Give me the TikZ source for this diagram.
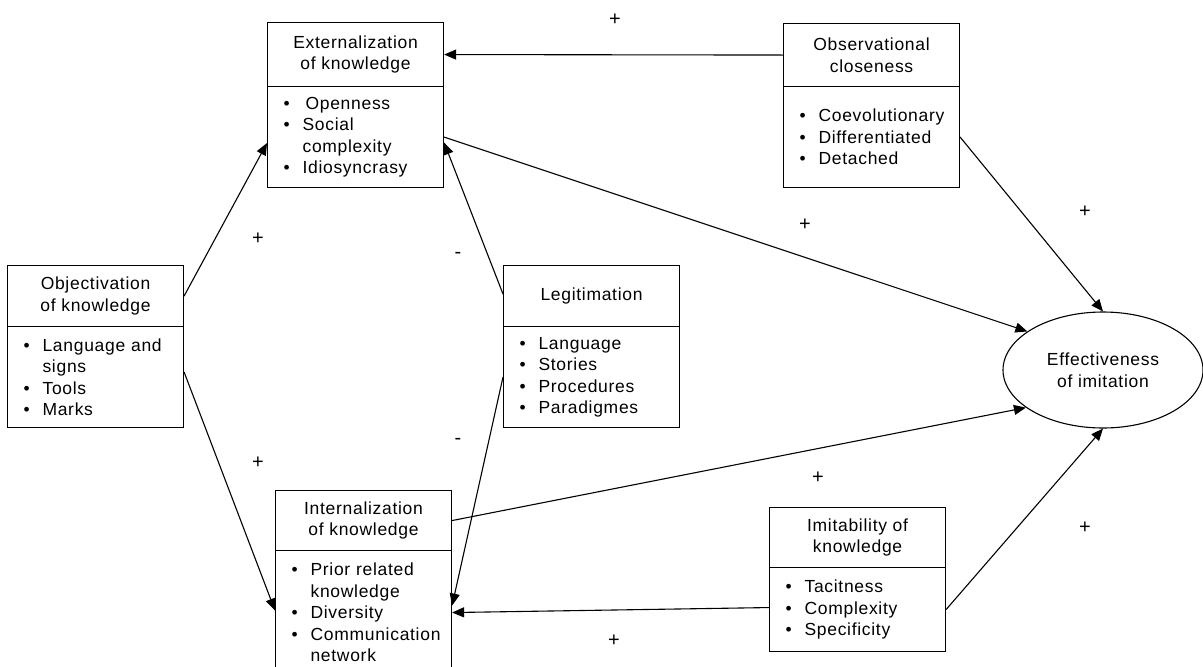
\documentclass[tikz,border=0pt]{standalone}
\usepackage{fontspec}
\setmainfont[LetterSpace=4]{Liberation Sans}
\usetikzlibrary{arrows.meta,shapes.geometric,calc}
% bullet item and continuation line inside a list box
\newcommand\blt{\makebox[31pt][l]{\hspace{12pt}\textbullet}}
\newcommand\cnt{\hspace*{31pt}}

\begin{document}
\begin{tikzpicture}[x=1pt,y=-1pt,
  every node/.style={font=\fontsize{17.5}{21.5}\selectfont},
  hdr/.style={draw, line width=1.1pt, minimum width=176pt, align=center,
              anchor=north west, inner sep=0pt},
  bdy/.style={draw, line width=1.1pt, minimum width=176pt, text width=168pt,
              align=left, anchor=north west, inner xsep=4pt, inner ysep=0pt},
  oval/.style={draw, line width=1.1pt, ellipse, minimum width=200pt,
               minimum height=116pt, inner sep=0pt, align=center},
  arr/.style={line width=1.1pt, -{Triangle[length=12pt,width=10pt]}},
  sign/.style={font=\fontsize{20}{22}\selectfont, inner sep=0pt}]
\useasboundingbox (0,0) rectangle (1203,667);
\clip (0,0) rectangle (1203,667);

% Externalization
\node[hdr, minimum height=64pt] (exth) at (267,22) {Externalization\\of knowledge};
\node[bdy, minimum height=101pt] (extb) at (267,86)
  {\blt\hspace{3pt}Openness\\\blt Social\\\cnt complexity\\\blt Idiosyncrasy};

% Observational closeness
\node[hdr, minimum height=63pt] (obsh) at (783,23) {Observational\\closeness};
\node[bdy, minimum height=101pt] (obsb) at (783,86)
  {\blt Coevolutionary\\\blt Differentiated\\\blt Detached};

% Objectivation
\node[hdr, minimum height=61pt] (objh) at (7,265) {Objectivation\\of knowledge};
\node[bdy, minimum height=101pt] (objb) at (7,326)
  {\blt Language and\\\cnt signs\\\blt Tools\\\blt Marks};

% Legitimation
\node[hdr, minimum height=61pt] (legh) at (503,265) {Legitimation};
\node[bdy, minimum height=101pt] (legb) at (503,326)
  {\blt Language\\\blt Stories\\\blt Procedures\\\blt Paradigmes};

% Internalization
\node[hdr, minimum height=60pt] (inth) at (275,490) {Internalization\\of knowledge};
\node[bdy, minimum height=124pt] (intb) at (275,550)
  {\blt Prior related\\\cnt knowledge\\\blt Diversity\\\blt Communication\\\cnt network};

% Imitability
\node[hdr, minimum height=60pt] (imh) at (769,507) {Imitability of\\knowledge};
\node[bdy, minimum height=84pt] (imb) at (769,567)
  {\blt Tacitness\\\blt Complexity\\\blt Specificity};

% Outcome
\node[oval] (eff) at (1103,370) {Effectiveness\\of imitation};

% Connectors
\draw[arr] (objh.east) -- ([yshift=-6pt]extb.west);
\draw[arr] ([yshift=5pt]objb.east) -- ([yshift=2pt]intb.west);
\draw[arr] (obsh.west) -- (exth.east);
\draw[arr] (extb.east) -- (eff.153);
\draw[arr] ([yshift=2pt]legh.west) -- ([yshift=-5.5pt]extb.east);
\draw[arr] (legb.west) -- ([yshift=7pt]intb.east);
\draw[arr] (inth.east) -- (eff.206);
\draw[arr] ([yshift=2pt]imb.west) -- (intb.east);
\draw[arr] (imb.east) -- (eff.south);
\draw[arr] (obsb.east) -- (eff.north);

% Signs
\node[sign] (s1) at (615,20) {+};
\node[sign] (s2) at (258,239) {+};
\node[sign] (s3) at (458,255) {-};
\node[sign] (s4) at (805,225) {+};
\node[sign] (s5) at (1085,212) {+};
\node[sign] (s6) at (258,463) {+};
\node[sign] (s7) at (458,441) {-};
\node[sign] (s8) at (818,478) {+};
\node[sign] (s9) at (1085,528) {+};
\node[sign] (s10) at (614,641) {+};
\end{tikzpicture}
\end{document}
